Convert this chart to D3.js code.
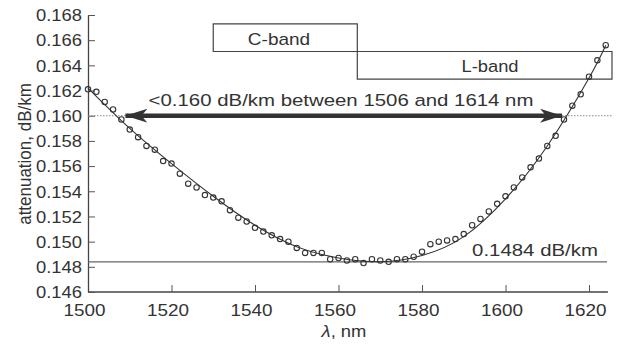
<!DOCTYPE html>
<html>
<head>
<meta charset="utf-8">
<style>
body { margin: 0; background: #fff; }
svg { display: block; }
text { font-family: 'Liberation Sans', Arial, sans-serif; fill: #333; }
</style>
</head>
<body>
<svg></svg>
<script src="https://d3js.org/d3.v7.min.js"></script>
<script>

const width = 618;
const height = 353;

// measured points, every 2 nm
const wavelength = [1500, 1502, 1504, 1506, 1508, 1510, 1512, 1514, 1516, 1518,
    1520, 1522, 1524, 1526, 1528, 1530, 1532, 1534, 1536, 1538,
    1540, 1542, 1544, 1546, 1548, 1550, 1552, 1554, 1556, 1558,
    1560, 1562, 1564, 1566, 1568, 1570, 1572, 1574, 1576, 1578,
    1580, 1582, 1584, 1586, 1588, 1590, 1592, 1594, 1596, 1598,
    1600, 1602, 1604, 1606, 1608, 1610, 1612, 1614, 1616, 1618,
    1620, 1622, 1624];
const attenuation = [0.1621, 0.1619, 0.1611, 0.1605, 0.1597, 0.1589, 0.1583, 0.1576, 0.1573, 0.1564,
    0.1562, 0.1554, 0.1546, 0.1543, 0.1537, 0.1535, 0.1532, 0.1525, 0.1519, 0.1516,
    0.1511, 0.1508, 0.1505, 0.1502, 0.1500, 0.1495, 0.1491, 0.1491, 0.1491, 0.1486,
    0.1487, 0.1485, 0.1486, 0.1483, 0.1486, 0.1485, 0.1484, 0.1486, 0.1486, 0.1488,
    0.1492, 0.1498, 0.1500, 0.1501, 0.1502, 0.1506, 0.1513, 0.1518, 0.1524, 0.1530,
    0.1536, 0.1543, 0.1551, 0.1559, 0.1566, 0.1576, 0.1584, 0.1597, 0.1608, 0.1617,
    0.1631, 0.1644, 0.1656];

// fitted curve
const fitWavelength = [1500, 1510, 1520, 1530, 1540, 1550, 1560, 1570, 1580, 1590, 1600, 1610, 1620, 1624];
const fitAttenuation = [0.1622, 0.1590, 0.1562, 0.1536, 0.1513, 0.1496, 0.1487, 0.1484, 0.1489, 0.1504, 0.1534, 0.1576, 0.1630, 0.1656];

const xTicks = [1500, 1520, 1540, 1560, 1580, 1600, 1620];
const yTicks = [0.146, 0.148, 0.150, 0.152, 0.154, 0.156, 0.158, 0.160, 0.162, 0.164, 0.166, 0.168];

const minLoss = 0.1484;
const limitLoss = 0.160;
const arrowRange = [1508, 1614.5];
const cBand = [1530, 1564.5, 0.1673, 0.1651];
const lBand = [1564.5, 1625.5, 0.1651, 0.1629];

const x = d3.scaleLinear().domain([1500, 1625]).range([88, 609.9]);
const y = d3.scaleLinear().domain([0.146, 0.168]).range([292, 15]);

const svg = d3.select('svg')
    .attr('width', width)
    .attr('height', height);

const ink = '#333';

// wide text, the scan is stretched sideways
function label(px, py, str, size, anchor, sx) {
    return svg.append('text')
        .attr('transform', `translate(${px},${py}) scale(${sx},1)`)
        .attr('text-anchor', anchor)
        .style('font-size', size + 'px')
        .text(str);
}

// axes
const xAxis = svg.append('g')
    .attr('transform', `translate(0,${y(0.146)})`)
    .call(d3.axisBottom(x).tickValues(xTicks).tickFormat(d3.format('d')).tickSizeInner(-7).tickSizeOuter(0).tickPadding(0));
xAxis.select('.domain').attr('d', `M${x(1500)},0H${x(1625) - 2}`);

const yAxis = svg.append('g')
    .attr('transform', `translate(${x(1500)},0)`)
    .call(d3.axisLeft(y).tickValues(yTicks).tickFormat(d3.format('.3f')).tickSizeInner(-7).tickSizeOuter(0).tickPadding(0));

[xAxis, yAxis].forEach(a => {
    a.select('.domain').attr('stroke', '#444').attr('stroke-width', 1.3);
    a.selectAll('.tick line').attr('stroke', '#555').attr('stroke-width', 1);
    a.selectAll('text').attr('fill', ink).style('font-size', '16px')
        .style('font-family', "'Liberation Sans', Arial, sans-serif");
});
xAxis.selectAll('.tick text').attr('y', 0).attr('dy', 0)
    .attr('transform', 'translate(-4,24) scale(1.18,1)');
yAxis.selectAll('.tick text').attr('x', 0).attr('dy', '0.36em')
    .attr('transform', 'translate(-6,0) scale(1.15,1)');

// reference lines
svg.append('line')
    .attr('x1', x(1500)).attr('x2', 612)
    .attr('y1', y(limitLoss)).attr('y2', y(limitLoss))
    .attr('stroke', '#888').attr('stroke-width', 1)
    .attr('stroke-dasharray', '1.5,1.5');

svg.append('line')
    .attr('x1', x(1500)).attr('x2', 607)
    .attr('y1', y(minLoss)).attr('y2', y(minLoss))
    .attr('stroke', '#666').attr('stroke-width', 1.2);

// band boxes
svg.append('path')
    .attr('d', `M${x(cBand[0])},${y(cBand[2])}H${x(cBand[1])}V${y(cBand[3])}H${x(cBand[0])}Z`)
    .attr('fill', 'none').attr('stroke', '#444').attr('stroke-width', 1.2);
svg.append('path')
    .attr('d', `M${x(lBand[0])},${y(lBand[2])}H${x(lBand[1])}V${y(lBand[3])}H${x(lBand[0])}Z`)
    .attr('fill', 'none').attr('stroke', '#444').attr('stroke-width', 1.2);

label(279, 45, 'C-band', 17, 'middle', 1.12);
label(490, 72, 'L-band', 17, 'middle', 1.08);

// double arrow
const defs = svg.append('defs');
defs.append('marker')
    .attr('id', 'head')
    .attr('viewBox', '0 0 22 14')
    .attr('refX', 22).attr('refY', 7)
    .attr('markerUnits', 'userSpaceOnUse')
    .attr('markerWidth', 22).attr('markerHeight', 14)
    .attr('orient', 'auto-start-reverse')
    .append('path')
    .attr('d', 'M0,0L22,7L0,14L6,7Z')
    .attr('fill', ink);

svg.append('line')
    .attr('x1', x(arrowRange[0]) + 4).attr('x2', x(arrowRange[1]) - 4)
    .attr('y1', y(limitLoss)).attr('y2', y(limitLoss))
    .attr('stroke', ink).attr('stroke-width', 4.5)
    .attr('marker-start', 'url(#head)')
    .attr('marker-end', 'url(#head)');

label(341, 106, '<0.160 dB/km between 1506 and 1614 nm', 17, 'middle', 1.2);
label(535, 256, '0.1484 dB/km', 17, 'middle', 1.2);

// fit curve
const line = d3.line()
    .x((d, i) => x(fitWavelength[i]))
    .y(d => y(d))
    .curve(d3.curveNatural);

svg.append('path')
    .attr('d', line(fitAttenuation))
    .attr('fill', 'none')
    .attr('stroke', ink)
    .attr('stroke-width', 1.1);

// measured points
svg.append('g').selectAll('circle')
    .data(attenuation)
    .join('circle')
    .attr('cx', (d, i) => x(wavelength[i]))
    .attr('cy', d => y(d))
    .attr('r', 2.7)
    .attr('fill', 'none')
    .attr('stroke', ink)
    .attr('stroke-width', 1.1);

// axis titles
svg.append('text')
    .attr('transform', 'translate(31,154) scale(1.12,1) rotate(-90)')
    .attr('text-anchor', 'middle')
    .style('font-size', '17px')
    .text('attenuation, dB/km');

const xt = label(344, 337, '', 16, 'middle', 1.15);
xt.append('tspan').style('font-style', 'italic').text('λ');
xt.append('tspan').text(', nm');

</script>
</body>
</html>
